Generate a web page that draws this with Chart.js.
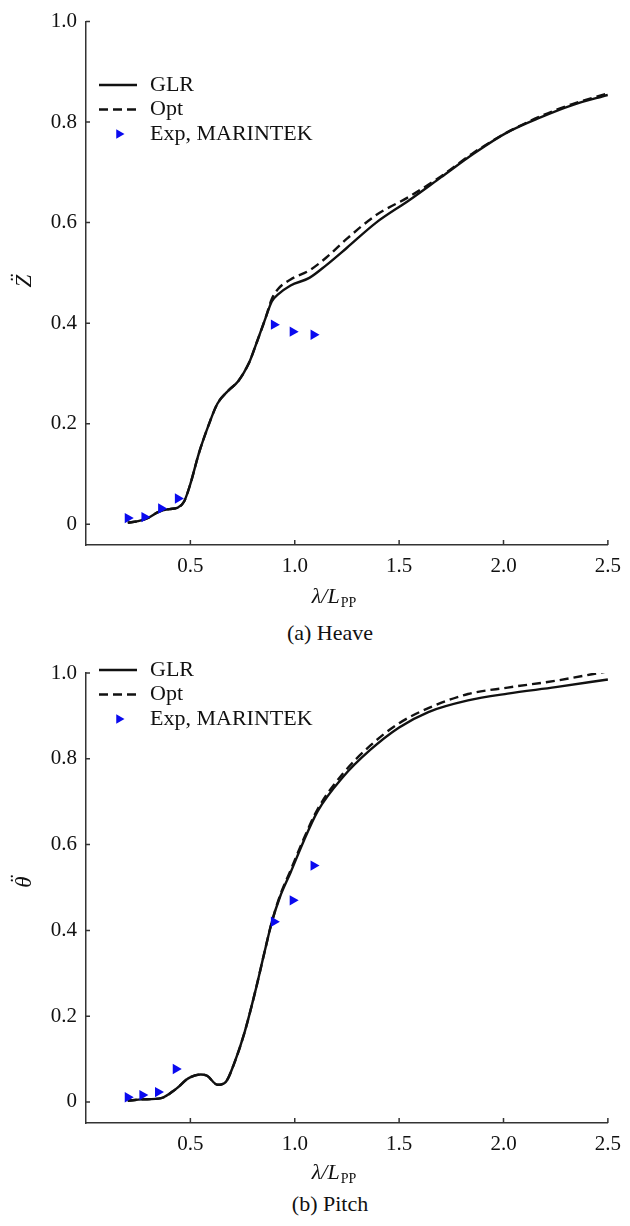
<!doctype html>
<html lang="en">

<head>
    <meta charset="utf-8" />
    <title>Heave and pitch</title>
    <script src="https://cdn.jsdelivr.net/npm/chart.js@4.4.0/dist/chart.umd.min.js"></script>
    <style>
        body {
            margin: 0;
            background: #fff;
        }
        #page {
            position: relative;
            width: 630px;
            height: 1226px;
            font-family: "Liberation Serif", serif;
        }
        canvas {
            position: absolute;
            left: 0;
        }
        #heaveChart { top: 0; }
        #pitchChart { top: 645px; }
        .caption {
            position: absolute;
            left: 330px;
            transform: translateX(-50%);
            font-size: 22px;
            line-height: 1;
            color: #111;
            white-space: nowrap;
        }
    </style>
</head>

<body>
    <div id="page">
        <canvas id="heaveChart" width="630" height="612"></canvas>
        <div class="caption" style="top:622px">(a) Heave</div>
        <canvas id="pitchChart" width="630" height="545"></canvas>
        <div class="caption" style="top:1193px">(b) Pitch</div>
    </div>

    <script>
        // tick labels
        const xTicks = [0.5, 1.0, 1.5, 2.0, 2.5];
        const yTicks = [0, 0.2, 0.4, 0.6, 0.8, 1.0];

        // (a) heave
        const heaveX = [0.2, 0.25, 0.3, 0.35, 0.4, 0.44, 0.47, 0.5, 0.54, 0.59, 0.63, 0.68, 0.73, 0.78, 0.82,
            0.86, 0.89, 0.92, 0.98, 1.07, 1.15, 1.25, 1.39, 1.55, 1.7, 1.86, 2.02, 2.18, 2.33, 2.5];
        const heaveGlr = [0.003, 0.006, 0.013, 0.025, 0.030, 0.033, 0.045, 0.08, 0.14, 0.2, 0.24, 0.265, 0.285, 0.32, 0.364,
            0.41, 0.443, 0.457, 0.475, 0.49, 0.515, 0.55, 0.6, 0.645, 0.69, 0.738, 0.78, 0.81, 0.834, 0.854];
        const heaveOpt = [0.003, 0.006, 0.013, 0.025, 0.030, 0.033, 0.045, 0.08, 0.14, 0.2, 0.24, 0.265, 0.285, 0.32, 0.364,
            0.41, 0.448, 0.468, 0.487, 0.505, 0.53, 0.568, 0.615, 0.652, 0.692, 0.74, 0.78, 0.812, 0.836, 0.857];
        const heaveExpX = [0.2, 0.28, 0.36, 0.44, 0.9, 0.99, 1.09];
        const heaveExp = [0.012, 0.014, 0.031, 0.051, 0.397, 0.383, 0.377];

        // (b) pitch
        const pitchX = [0.2, 0.27, 0.36, 0.43, 0.49, 0.55, 0.58, 0.63, 0.67, 0.71, 0.76, 0.81, 0.855, 0.89, 0.93,
            0.98, 1.04, 1.11, 1.23, 1.36, 1.5, 1.64, 1.83, 2.02, 2.25, 2.5];
        const pitchGlr = [0.003, 0.006, 0.009, 0.03, 0.055, 0.064, 0.061, 0.04, 0.047, 0.09, 0.163, 0.256, 0.349, 0.419, 0.479,
            0.535, 0.605, 0.678, 0.757, 0.82, 0.873, 0.909, 0.936, 0.952, 0.967, 0.985];
        const pitchOpt = [0.003, 0.006, 0.009, 0.03, 0.055, 0.064, 0.061, 0.04, 0.047, 0.09, 0.163, 0.256, 0.349, 0.419, 0.482,
            0.54, 0.61, 0.683, 0.765, 0.83, 0.883, 0.918, 0.951, 0.966, 0.982, 1.004];
        const pitchExpX = [0.2, 0.27, 0.345, 0.43, 0.9, 0.99, 1.09];
        const pitchExp = [0.011, 0.016, 0.023, 0.077, 0.42, 0.47, 0.551];

        const FONT = '"Liberation Serif", "Times New Roman", serif';
        const INK = '#111';

        function pts(xs, ys) {
            return xs.map((x, i) => ({ x: x, y: ys[i] }));
        }

        // inward ticks, axis titles and the legend
        const figureExtras = {
            id: 'figureExtras',
            afterDraw(chart, args, opts) {
                const ctx = chart.ctx;
                const area = chart.chartArea;
                const xs = chart.scales.x;
                const ys = chart.scales.y;
                ctx.save();

                ctx.strokeStyle = '#333';
                ctx.lineWidth = 1.5;
                ctx.beginPath();
                xs.ticks.forEach(t => {
                    const p = xs.getPixelForValue(t.value);
                    ctx.moveTo(p, area.bottom);
                    ctx.lineTo(p, area.bottom - 5);
                });
                ys.ticks.forEach(t => {
                    const p = ys.getPixelForValue(t.value);
                    ctx.moveTo(area.left, p);
                    ctx.lineTo(area.left + 4, p);
                });
                ctx.stroke();

                // y title, rotated: letter with a diaeresis placed above it
                ctx.fillStyle = INK;
                ctx.font = 'italic 23px ' + FONT;
                ctx.textAlign = 'center';
                ctx.textBaseline = 'middle';
                ctx.save();
                ctx.translate(opts.yTitleX, opts.yTitleY);
                ctx.rotate(-Math.PI / 2);
                ctx.fillText(opts.yTitle, 0, 0);
                ctx.fillText('\u00a8', 2, -5);
                ctx.restore();

                // x title  λ/L with PP subscript
                ctx.textAlign = 'left';
                ctx.textBaseline = 'alphabetic';
                const main = 'λ/L';
                const sub = 'PP';
                ctx.font = 'italic 22px ' + FONT;
                const w1 = ctx.measureText(main).width;
                ctx.font = '14px ' + FONT;
                const w2 = ctx.measureText(sub).width;
                const x0 = opts.xTitleX - (w1 + w2 + 1) / 2;
                ctx.font = 'italic 22px ' + FONT;
                ctx.fillText(main, x0, opts.xTitleY);
                ctx.font = '14px ' + FONT;
                ctx.fillText(sub, x0 + w1 + 1, opts.xTitleY + 4);

                // legend
                ctx.font = '22px ' + FONT;
                ctx.textBaseline = 'middle';
                chart.data.datasets.forEach((ds, i) => {
                    const y = opts.legendTop + i * 24.5;
                    if (ds.showLine) {
                        ctx.setLineDash(ds.borderDash || []);
                        ctx.lineWidth = ds.borderWidth;
                        ctx.strokeStyle = ds.borderColor;
                        ctx.beginPath();
                        ctx.moveTo(99, y);
                        ctx.lineTo(137, y);
                        ctx.stroke();
                        ctx.setLineDash([]);
                    } else {
                        ctx.fillStyle = ds.backgroundColor;
                        Chart.helpers.drawPoint(ctx, {
                            pointStyle: ds.pointStyle, rotation: ds.rotation, radius: 5.5, borderWidth: 0
                        }, 119, y);
                    }
                    ctx.fillStyle = INK;
                    ctx.fillText(ds.label, 150, y);
                });

                ctx.restore();
            }
        };

        function makeChart(id, glrX, glr, opt, expX, exp, yMin, extras) {
            const ctx = document.getElementById(id).getContext('2d');
            return new Chart(ctx, {
                type: 'scatter',
                data: {
                    datasets: [{
                        label: 'GLR',
                        data: pts(glrX, glr),
                        showLine: true,
                        borderColor: INK,
                        borderWidth: 2.4,
                        pointRadius: 0,
                        cubicInterpolationMode: 'monotone',
                        order: 1
                    }, {
                        label: 'Opt',
                        data: pts(glrX, opt),
                        showLine: true,
                        borderColor: INK,
                        borderWidth: 2.4,
                        borderDash: [9, 5],
                        pointRadius: 0,
                        cubicInterpolationMode: 'monotone',
                        order: 2
                    }, {
                        label: 'Exp, MARINTEK',
                        data: pts(expX, exp),
                        showLine: false,
                        pointStyle: 'triangle',
                        rotation: 90,
                        pointRadius: 6,
                        backgroundColor: '#0a0aef',
                        borderColor: '#0a0aef',
                        borderWidth: 0,
                        order: 0
                    }]
                },
                options: {
                    responsive: false,
                    animation: false,
                    layout: { padding: { top: extras.padTop, right: 15, left: 0, bottom: 0 } },
                    plugins: {
                        legend: { display: false },
                        tooltip: { enabled: false },
                        figureExtras: extras
                    },
                    scales: {
                        x: {
                            type: 'linear',
                            min: 0,
                            max: 2.5,
                            afterBuildTicks: s => { s.ticks = xTicks.map(v => ({ value: v })); },
                            afterFit: s => { s.height = extras.xHeight; },
                            grid: { display: false, drawTicks: false },
                            border: { display: true, color: '#333', width: 1.5 },
                            ticks: {
                                padding: 9,
                                maxRotation: 0,
                                color: INK,
                                font: { family: FONT, size: 21 },
                                callback: v => v.toFixed(1)
                            }
                        },
                        y: {
                            type: 'linear',
                            min: yMin,
                            max: 1,
                            afterBuildTicks: s => { s.ticks = yTicks.map(v => ({ value: v })); },
                            afterFit: s => { s.width = 86; },
                            grid: { display: false, drawTicks: false },
                            border: { display: true, color: '#333', width: 1.5 },
                            ticks: {
                                padding: 9,
                                color: INK,
                                font: { family: FONT, size: 21 },
                                callback: v => (v === 0 ? '0' : v.toFixed(1))
                            }
                        }
                    }
                },
                plugins: [figureExtras]
            });
        }

        makeChart('heaveChart', heaveX, heaveGlr, heaveOpt, heaveExpX, heaveExp, -0.0415, {
            padTop: 18, xHeight: 67,
            yTitle: 'Z', yTitleX: 25, yTitleY: 281,
            xTitleX: 334, xTitleY: 603,
            legendTop: 85
        });

        makeChart('pitchChart', pitchX, pitchGlr, pitchOpt, pitchExpX, pitchExp, -0.049, {
            padTop: 28, xHeight: 67,
            yTitle: '\u03b8', yTitleX: 25, yTitleY: 237,
            xTitleX: 334, xTitleY: 534,
            legendTop: 25
        });
    </script>
</body>

</html>
